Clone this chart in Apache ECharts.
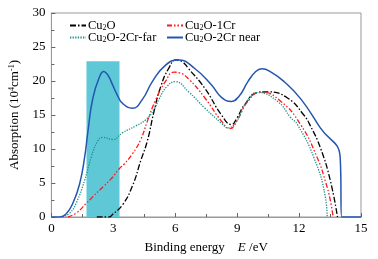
<!DOCTYPE html>
<html>
<head>
<meta charset="utf-8">
<script src="https://cdn.jsdelivr.net/npm/echarts@6/dist/echarts.min.js"></script>
<style>
html, body { margin: 0; padding: 0; background: #fff; }
#main { width: 378px; height: 259px; }
</style>
</head>
<body>
<div id="main"></div>
<script>
// series names
var names = ['Cu2O', 'Cu2O-1Cr', 'Cu2O-2Cr-far', 'Cu2O-2Cr near'];

// Cu2O
var cu2oE = [2.2, 2.8, 2.97, 3.45, 3.93, 4.33, 4.65, 4.97, 5.3, 5.69, 6.05, 6.35, 6.65, 7.44, 8.24, 8.72, 9.0, 9.36, 10.0, 10.48, 11.44, 12.23, 12.55, 13.03, 13.51, 13.86];
var cu2oA = [0, 0, 0.4, 1.8, 4.6, 8.3, 11.2, 15.5, 19.2, 21.9, 23.1, 22.8, 21.8, 18.9, 15.0, 13.6, 14.6, 16.5, 18.3, 18.4, 17.5, 15.0, 13.4, 10.2, 5.4, 0];

// Cu2O-1Cr
var cr1E = [0.8, 1.21, 1.69, 2.01, 2.52, 2.89, 3.29, 3.53, 3.93, 4.33, 4.65, 5.05, 5.52, 5.93, 6.2, 6.65, 7.44, 8.24, 8.65, 9.0, 9.52, 10.16, 11.12, 12.07, 12.87, 13.3, 13.51, 13.65];
var cr1A = [0, 0.6, 2.0, 3.0, 4.5, 5.6, 7.1, 7.8, 9.3, 11.4, 14.1, 17.2, 19.9, 21.3, 21.2, 20.3, 17.5, 14.1, 13.0, 14.2, 17.0, 18.4, 17.0, 13.6, 8.8, 5.0, 2.5, 0];

// Cu2O-2Cr-far
var farE = [0.55, 0.9, 1.21, 1.61, 1.93, 2.25, 2.49, 2.97, 3.45, 4.09, 4.57, 4.97, 5.21, 5.6, 6.0, 6.65, 7.44, 8.24, 8.56, 9.0, 9.36, 10.0, 10.96, 11.6, 11.92, 12.71, 13.27, 13.36];
var farA = [0, 0.6, 2.1, 5.4, 8.8, 11.2, 11.7, 11.4, 12.4, 13.4, 14.3, 15.8, 17.3, 19.2, 19.9, 18.4, 16.0, 13.8, 13.1, 14.2, 16.5, 18.3, 17.0, 14.6, 13.6, 8.8, 3.0, 0];

// Cu2O-2Cr near
var nearE = [0, 0.4, 0.7, 1.05, 1.37, 1.61, 1.77, 2.01, 2.33, 2.54, 2.75, 2.97, 3.2, 3.45, 3.93, 4.41, 4.89, 5.52, 6.15, 6.96, 7.76, 8.24, 8.72, 9.1, 9.52, 9.9, 10.19, 10.7, 11.28, 12.1, 13.03, 13.99, 13.99, 14.07, 14.07, 15];
var nearA = [0, 0, 0.4, 2.1, 4.9, 8.8, 12.6, 17.5, 20.6, 21.4, 20.8, 19.4, 17.9, 16.7, 16.0, 17.3, 19.9, 22.3, 23.1, 21.8, 19.4, 17.6, 17.0, 17.8, 19.9, 21.4, 21.8, 21.2, 19.9, 17.3, 13.1, 8.8, 8.8, 0, 0, 0];

// highlighted band
var bandE = [1.7, 3.3];
var bandTop = 22.9;

function pairs(xs, ys) {
    return xs.map(function (x, i) { return [x, ys[i]]; });
}

var font = '"Liberation Serif", "Times New Roman", serif';
var subRich = {
    sub: { fontSize: 8, fontFamily: font, color: '#000', verticalAlign: 'bottom', padding: [5, 0, 0, 0] },
    t: { fontSize: 12.5, fontFamily: font, color: '#000' }
};
function legendFmt(n) {
    return '{t|Cu}{sub|2}{t|' + n.slice(3) + '}';
}

var myChart = echarts.init(document.getElementById('main'));
myChart.setOption({
    animation: false,
    textStyle: { fontFamily: font },
    grid: {
        left: 48, right: 17, top: 13, bottom: 38,
        show: true, borderColor: '#999', borderWidth: 1
    },
    legend: [{
        data: [names[0], names[2]],
        orient: 'vertical',
        left: 64, top: 14,
        itemWidth: 16, itemHeight: 8, itemGap: -1,
        itemStyle: { opacity: 0 },
        formatter: legendFmt,
        textStyle: { rich: subRich, padding: [0, 0, 0, -3] }
    }, {
        data: [names[1], names[3]],
        orient: 'vertical',
        left: 161, top: 14,
        itemWidth: 16, itemHeight: 8, itemGap: -1,
        itemStyle: { opacity: 0 },
        formatter: legendFmt,
        textStyle: { rich: subRich, padding: [0, 0, 0, -3] }
    }],
    xAxis: {
        type: 'value', min: 0, max: 15, interval: 3,
        name: 'Binding energy    {i|E} /eV',
        nameLocation: 'middle', nameGap: 24,
        nameTextStyle: {
            fontSize: 13, color: '#000', fontFamily: font,
            rich: { i: { fontStyle: 'italic', fontSize: 13, fontFamily: font, color: '#000' } }
        },
        axisLine: { lineStyle: { color: '#999' } },
        axisTick: { inside: true, length: 4, lineStyle: { color: '#666' } },
        minorTick: { show: true, splitNumber: 2, length: 3, lineStyle: { color: '#666' } },
        axisLabel: { color: '#000', fontSize: 13, margin: 5 },
        splitLine: { show: false }
    },
    yAxis: {
        type: 'value', min: 0, max: 30, interval: 5,
        name: 'Absorption (10{sup|4}cm{sup|-1})',
        nameLocation: 'middle', nameGap: 28,
        nameTextStyle: {
            fontSize: 13, color: '#000', fontFamily: font,
            rich: { sup: { fontSize: 8, fontFamily: font, color: '#000', verticalAlign: 'top', padding: [0, 0, 6, 0] } }
        },
        axisLine: { show: true, lineStyle: { color: '#999' } },
        axisTick: { show: true, inside: true, length: 4, lineStyle: { color: '#666' } },
        minorTick: { show: true, splitNumber: 2, length: 3, lineStyle: { color: '#666' } },
        axisLabel: { color: '#000', fontSize: 13, margin: 6 },
        splitLine: { show: false }
    },
    series: [{
        type: 'line',
        name: 'band',
        data: [],
        z: 1,
        markArea: {
            silent: true,
            itemStyle: { color: '#5ec8d6', opacity: 1 },
            data: [[{ coord: [bandE[0], 0] }, { coord: [bandE[1], bandTop] }]]
        }
    }, {
        type: 'line', name: names[0], data: pairs(cu2oE, cu2oA),
        smooth: 0.5, showSymbol: false, symbol: 'none', z: 3,
        lineStyle: { color: '#000', width: 1.3, type: [6, 2, 1.5, 2] },
        itemStyle: { color: '#000' }
    }, {
        type: 'line', name: names[1], data: pairs(cr1E, cr1A),
        smooth: 0.5, showSymbol: false, symbol: 'none', z: 3,
        lineStyle: { color: '#ff1a1a', width: 1.3, type: [5, 2, 1.5, 2, 1.5, 2] },
        itemStyle: { color: '#ff1a1a' }
    }, {
        type: 'line', name: names[2], data: pairs(farE, farA),
        smooth: 0.5, showSymbol: false, symbol: 'none', z: 3,
        lineStyle: { color: '#1f9090', width: 1.3, type: [1.3, 1.3] },
        itemStyle: { color: '#1f9090' }
    }, {
        type: 'line', name: names[3], data: pairs(nearE, nearA),
        smooth: 0.5, showSymbol: false, symbol: 'none', z: 4,
        lineStyle: { color: '#2456b0', width: 1.5 },
        itemStyle: { color: '#2456b0' }
    }]
});
</script>
</body>
</html>
